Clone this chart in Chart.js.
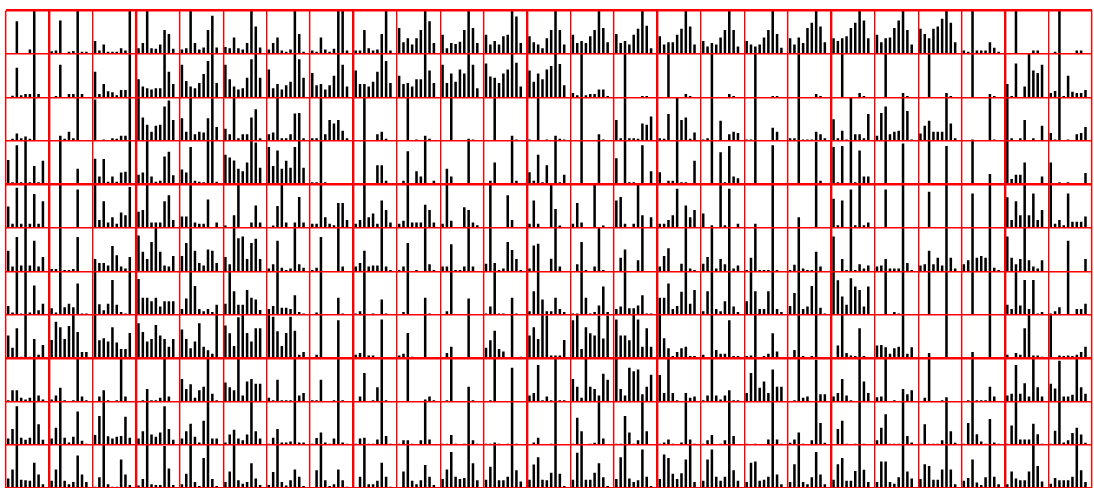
<!DOCTYPE html>
<html>
<head>
<meta charset="utf-8">
<script src="https://cdn.jsdelivr.net/npm/chart.js@4/dist/chart.umd.min.js"></script>
<style>
html,body{margin:0;padding:0;background:#fff;overflow:hidden;}
canvas{display:block;}
</style>
</head>
<body>
<canvas id="grid" width="1094" height="490"></canvas>
<script>
/* panel grid: 25 columns x 11 rows, 9 bars per panel */
const slotLabels = [1,2,3,4,5,6,7,8,9];
const colGroups = [1,2,5,4,3,4,4,2];
const rowGroups = [4,4,3];

const row0 = [
[0,0,7.5,0,0,1,10,0,0],[0.6,0.8,7.7,0,0.5,0.7,10,0.5,0.5],[3,0.8,2.2,0.5,0.5,0.5,1.3,0.8,10],
[1.3,2.5,10,1.3,1.2,2.2,5.5,4.6,1.2],[1,1.3,10,2.5,1,1.5,5.5,8.8,1.5],[1.6,1.3,3.8,1.3,1,2.5,10,6.3,1.5],
[1,2.5,3.8,0.8,0.5,1,10,4.6,0.5],[0.8,0.5,3.8,1,0.5,1.2,10,10,0.8],[0.8,0.8,5.5,1.3,0.8,1,4.6,10,0.8],
[6,2.7,3.6,2.2,3.6,5.5,10,7.5,2.5],[4.4,1.3,2.5,2.3,2.8,5.5,10,6,2.5],[4.4,2.2,3,2.2,4.1,4.4,10,8.6,2.5],
[4.1,2.7,2.2,1.3,3.6,5.5,10,5.5,2.2],[4.4,2.5,3,2.5,4.1,5.5,10,6,2.7],[4.6,2.5,3,2.2,4.4,5.8,10,6.5,1.3],
[4.1,2.2,2.7,2.7,4.4,5.8,10,6.3,2.2],[3,1.7,2.5,2.2,3.8,5.5,10,5.5,1.7],[3,2.2,1.7,2.2,3.8,5.5,10,4.6,1.4],
[3.6,2.2,3.8,2.5,6,7.2,10,6.3,2.7],[3.6,3,3.6,4.1,6,7.2,10,7.7,3.6],[4.4,2.7,3.6,3.8,6,7.7,10,5.5,2.2],
[5.8,4.6,3.6,5.8,6.3,8.1,10,7.2,2.7],[0.8,0.5,10,0.8,0.8,0.8,2.7,1.4,0.5],[0,0,10,0,0,0,0.8,0.8,0],
[0,0.5,10,0,0,0,0.8,0.8,0]
];
const row1 = [
[0,0.4,6.8,0.5,0.8,0.8,10,0.8,0],[0,0.3,7.5,0,0.8,0.8,10,0.8,0],[5.9,0.8,3.1,1.4,1.2,0.5,1.7,1.7,10],
[4.2,2.5,2.1,1.8,2.1,2.1,10,5.9,3.1],[7.5,3.8,2.5,2.1,3.3,5.4,8.4,10,3.3],[7.5,4.2,2.5,1.8,2.1,4.5,8.8,10,4.5],
[6.4,2.1,3.1,1.8,2.8,3.6,10,8.8,4.5],[5.6,2.8,3.1,1.8,2.8,5,10,7.5,2.5],[6.2,3.1,3.1,2.5,3.6,5.9,10,8.4,3.3],
[5,3.1,3.3,2.5,4.2,4.2,10,6.2,3.3],[7.5,3.3,5.5,3.6,6.4,5.5,10,7.5,2.1],[7.8,4.8,4.5,3.3,5.5,6.4,10,8,2.5],
[6.2,3.6,5.5,4.2,6.4,7.2,10,7.7,2.8],[1,0.5,10,0.5,0.8,0.8,1.8,1.8,0.3],[0,0,10,0,0,0,0.3,0.3,0],
[0,0,10,0,0,0,0.8,0.3,0],[0,0,10,0,0,0,0.8,0.3,0],[0,0,10,0,0,0,0.3,0.3,0],
[0,0,10,0,0,0,0.8,0.3,0],[0,0,10,0,0,0,1,0.3,0],[0,0,10,0,0,0,1,0.3,0],
[0,0,10,0,0,0,1,0.3,0],[0,0,10,0,0,0,0.8,0.3,0],[3.1,0.3,7.8,0,2.5,10,6.2,5.6,7.5],
[1,1.5,10,0.3,5,1.3,1,1,1.7]
];
const row2 = [
[0,0.5,1.7,0.6,1,0.5,10,0,0],[0,0,1.2,0.5,2.1,0.6,10,0,0],[9.5,0,0.3,0,0.6,0.5,1.2,1.2,10],
[10,5.4,3.7,2.1,3.5,3.7,7.9,9.3,4.8],[5.2,2.1,10,1.5,2.1,1.9,5.2,9.8,3.2],[2.8,1.5,10,0.6,1.5,1.5,5.4,7.3,0.6],
[1.5,1.9,10,0.6,0.6,1.5,6.3,6.4,0.6],[0.6,0.6,10,1.5,4.8,4,4.8,2.3,0.6],[0,0,10,0,0,1.5,2.1,0.5,0],
[0,0,10,0,0.3,0,1.2,0.5,0],[0,0,10,0,0,0,0.5,0.3,0],[0,0,10,0,0,0,1.2,0.3,0],
[0.3,0,10,0,0.3,0,1.2,0.5,0.3],[0,0,10,0,0,0,1.5,0.3,0],[4.8,0.6,10,0.6,0.6,0.5,4,3.7,5.6],
[0.6,0.5,6.2,0,10,4.8,5.4,0.5,1.9],[0.3,0.6,10,0,4.6,0,1.5,2.1,1.8],[0.3,0.3,10,0,0,0,3,2.1,0],
[0.6,0.6,10,0.3,0.3,0.3,2.1,1.5,0.6],[5,0.6,2.3,0.3,10,1.5,1.5,0.6,6.2],[1.2,6.4,7.9,1.5,2.1,2.3,10,6.9,0.3],
[1.7,3.5,4.6,2.1,2.1,2.1,10,4,0.6],[0,0,0.3,0,0,0,10,0.3,0],[10,0.6,0,0.6,4.8,0,0.6,0,3.5],
[1.8,0.3,10,0,0.3,0,1.5,1.8,3.2]
];
const row3 = [
[5.6,0.5,9,0.5,10,0.5,4.2,0.5,5.4],[0,0,10,0,0.3,0,3.6,0.3,0],[5.9,1.8,5.8,0.6,1.8,0.6,2.7,2.9,10],
[2.2,2.7,10,1.8,0.6,0.8,6.4,7.5,2.1],[3.4,2.7,8.6,0.8,0.6,0.5,10,10,0.6],[6.8,6.2,5.5,3.6,3,5,10,9.6,3.8],
[8.6,4.2,7.8,3.6,5.4,3.8,8.6,10,3.8],[0.5,0.5,10,0.5,0,0,0,0.3,0],[0,0,10,0,0.3,4.4,4.4,0.8,0],
[0,0.8,7.6,0,3,1.8,10,0.3,0.8],[0,3.6,1.8,0,0,0.3,10,0,0],[0,0.8,5,0,0.3,0,10,0.8,0],
[2.8,0.8,6.8,0.5,4.4,0.3,10,0.5,2.2],[0,0.3,10,0,0,0,10,0,0],[6,0.3,10,0.5,0.5,0.3,9,0.3,3],
[2.8,0.3,0.8,0.8,10,0.5,0.5,0.3,5.4],[0.3,0,10,0,7.4,0.5,8.8,1.8,1.4],[0,0,10,0,0,0,9,0.3,0],
[0,0,10,0,0,0,9.8,0.8,0],[8.6,0.5,8.8,0,10,0.5,7.8,1.8,1.8],[0,0,10,0,0,0,9.4,0.3,0],
[0,0,10,0,0,0,8.8,0,0],[0,0,10,0,0,0,2.4,0,0],[10,1.2,2.2,2.2,5,0,0,0,1.8],
[5,0,0.5,0.3,0.5,0.3,0,0,2.6]
];
const row4 = [
[4.9,0.9,9.2,0.9,10,0.9,7.8,0.9,6.1],[0,0,10,0,0,0,8.8,0,0],[10,1.8,6.1,1.2,2.4,0.9,3.5,2.9,9.4],
[3.7,4.1,10,1.2,1.2,1.2,6.1,7.5,1.8],[2.6,2.6,10,1.2,0.9,0.9,6.5,0,1.2],[0.5,0,2.9,10,0,0,1.2,5.1,1.2],
[0,0.5,5,10,1.2,0,1.2,7.1,1.2],[0.9,0.9,10,2.4,0.9,0.6,5.7,5.7,1.8],[0.9,1.8,10,2.4,3.3,0.9,6.3,4.1,1.2],
[0.9,1.6,10,1.2,1.2,1.2,5.3,4.1,1.2],[0.9,10,1.6,0,0,4.7,4.1,1.2,0.6],[0,10,0,0,0,7.5,1.8,0,0],
[0.9,6.3,0.9,0,0,10,4.3,0.5,0],[0.9,5.7,1.2,0,0,10,0,0.5,0],[6.3,7.1,0.9,0,0.9,10,2.9,0,2.4],
[0.9,0.9,1.8,2.9,9,0,5.1,2.4,4.1],[3.3,0,0.6,0,10,0.6,9,0,0.9],[0,0,0.9,0,0,0,10,0,0],
[0,0,2.4,0,0,0,10,0,0],[6.7,0.6,6.3,0,8.8,0.6,10,0.6,1.2],[0,0,8.8,0,0,0,10,0,0],
[0,0,8.3,0,0,0,10,0,0],[0,0,7.9,0,0,0,10,0,0],[7,1.8,6.1,2.9,10,2.9,7.9,1.8,4.1],
[10,0.9,1.8,0.6,7.9,1.4,1.4,1.4,2.6]
];
const row5 = [
[4.7,1.1,7.9,1.3,10,1.3,7,1.1,3.3],[0.5,0.5,10,0.3,0.3,0.5,7.9,0,0],[2.8,1.9,1.9,1.3,5.8,3.7,1.1,0.6,3.3],
[8.2,4.5,2.8,6.7,10,4.5,1.3,1.1,3.5],[3.5,6.5,10,4.7,1.9,1.3,5,4.7,1.9],[3.3,1.6,10,7.6,8,2.8,6.5,7.5,2.8],
[0.6,1.6,7,0.8,0.3,0.6,10,1.6,0.8],[0.3,0.8,7.9,0,0,0,10,1.1,0],[1.1,1.9,4.7,1.1,1.3,1.3,10,1.1,0.3],
[0.3,1.1,6.5,0,0.3,0,10,1.6,0.3],[1.1,1.1,6.2,0.3,0.3,1.1,10,1.1,0],[1.7,10,1.9,0.3,0.6,6.7,4.9,2.8,0.3],
[0.6,5.9,6.3,0,0,2.9,10,1.1,0],[0,1.6,6.7,0.3,0,1.1,10,0.3,0],[0,3.1,5,0,0,2.5,10,0,0],
[1.1,3.5,5.3,0,0,1.7,10,0.6,0.3],[1.7,3.3,10,0.6,2.8,1.6,10,0.6,1.3],[0.3,3.1,10,0.3,0.3,0.3,10,0.3,0],
[0.3,1.5,10,0.6,0.3,0.3,4.5,1.1,0],[8,0,2.8,0.3,10,0.3,1.6,0.6,1.3],[1.1,1.3,2.8,0.6,0.6,0.6,10,1.9,0.3],
[1.3,1.6,4.7,1.6,3.1,1.3,10,3.1,0.6],[1.6,2.5,10,3.1,3.5,3.1,10,0.8,0.3],[8,3.1,1.6,2.8,10,2.5,1.1,0.6,2.5],
[0,0,0,0,7,0,0,0,2.8]
];
const row6 = [
[2,0.5,10,0.3,10,0.5,6.7,1,2.5],[1.5,0.5,10,1.7,2.5,1.7,7.2,0.3,0.3],[10,2.4,1,2.5,8,2.3,0.6,0.3,10],
[8.2,3.9,3.9,3.1,3.9,1.9,3.1,3.1,3.1],[1.3,3.7,10,6.6,1.3,0.8,1.3,0.6,2.3],[2.5,10,5.4,2.3,2.3,5.7,3.9,3.5,1.1],
[1.3,2,10,1.6,1.6,1.3,4.5,0.6,0.3],[0,0.5,10,0,0,0,3.9,0.3,0],[0.3,0.8,10,0,0.3,0,3.5,0.3,0],
[0,0.6,10,0,0,0,3.9,0.3,0],[0,0.8,10,0,0,0,3.7,0,0],[0.3,1.9,10,0.3,0.3,0,3.9,0.3,0],
[0.8,5.4,10,3.5,0.8,0.8,3.9,1.3,0.6],[0.3,0.3,10,3.9,0.3,0.6,2.1,6.5,0.6],[1.3,1.9,10,1.5,1.5,2.1,4.5,0.3,0.3],
[3.9,3.9,7.2,1.3,2,5.3,10,2.5,5.7],[0.8,5.4,10,1.3,0.8,3.1,10,1.9,0.6],[3.1,10,5.4,1.3,1.3,5.4,10,1.3,0.6],
[2,5,10,1.3,1.9,6.6,10,1.6,0.3],[10,7.9,4.2,2.3,8.4,6.5,5.7,1.9,6.5],[0,0,10,0,0.6,0.3,10,0,0],
[0,0,10,0,0,0,10,0,0],[0,0,10,0,0,0,10,0,0],[2.3,1.3,10,2.1,8,1.3,8,0.3,0.6],
[0.3,0.8,1.7,0,10,0,1.3,1.3,2.5]
];
const row7 = [
[5.2,2.4,6.9,0.3,10,0.3,4.4,0.8,3],[4.2,8.4,7.1,4.4,7.4,10,6,1.4,1.4],[10,4.1,4.6,3.8,7.1,3.6,2.1,2.1,5.8],
[8,6,3.8,4.4,7.6,5.2,4.4,2.6,4.4],[6.6,4.4,2.3,3.8,8,2.6,1.8,1,10],[7.5,5.7,2.8,9.4,10,5.8,3.8,6.9,6.9],
[10,9.5,6.2,2.8,5.8,9.5,6.3,0.8,1.4],[0,0.8,10,0,0,0,8.7,0,0],[0.8,1.2,10,0.6,0.6,0,8.9,0,0],
[0.6,1,5.8,0.3,0,0,10,0,0],[0,1.2,2.6,0,0,0,10,0,0],[2.4,4.1,6.3,2.1,1.5,0,10,0,0.3],
[5.2,7.1,4.4,10,9.8,0.6,0.6,0.6,4.2],[8.7,10,2.1,7.1,5.7,5.2,9.8,4.5,9.8],[8.9,5.2,5.2,4.1,10,8.9,2.6,6.9,2.6],
[10,4.6,2.3,0.5,1.4,2.3,2.6,0.5,0.5],[0.8,0,10,1.9,1,1,8.7,0.5,0.5],[0.5,0.6,10,0,0.5,1,5.7,1.5,0],
[0,1.9,10,0.5,0,0.5,10,0,0],[0,2.9,10,1.2,0.6,0.5,6.9,0.5,0],[2.9,3,2.5,1,2.3,2.6,10,1,2.5],
[0,0,1.2,0,0,0,10,0,0],[0,0,1.4,0,0,0,10,0,0],[0.8,0,1.2,0.8,6.9,10,0.6,0.6,0.3],
[10,0,0.6,0.5,0.6,0.5,0.8,1.4,2.6]
];
const row8 = [
[0.3,2.6,2.6,0.9,0.5,0.9,10,1.4,0.5],[0.5,1.4,3.2,0.3,0,0.3,10,1.2,0.3],[0,1.2,2.6,0.3,0,0.3,10,1.2,0],
[0,0.3,2.9,0.3,0.3,0.9,10,1.2,0],[5.2,2.9,4,0.9,2.6,3.4,10,1.8,0.3],[4.4,3.3,2.6,10,1.4,4.6,5.2,4.1,4.1],
[0.9,0.3,5,0.3,0.3,0.3,10,1.4,2],[0.3,0.3,5,0,0,0.3,10,0.3,0],[0,1.2,6.6,0,0.3,3.3,10,0.3,0],
[0,0,10,0,0,0,0.5,1.2,0.3],[0,0.3,10,0,0,0,3.4,0.3,0],[0,0.3,10,0,0,0,7.8,0,0],
[1.4,2,8.4,0.3,1.2,0.3,10,0.3,0.3],[5.2,3.4,0.9,10,3.4,2.9,1.4,6.4,5],[10,2.9,1.4,7.8,7,7.4,1.7,3.4,6.2],
[6.1,2,10,2,0.3,0,2,0.9,1.2],[0.3,1.4,10,1.4,0.5,1.4,2.6,0.3,0.3],[2,6.6,10,3.2,4.6,2,7.4,3.4,3.4],
[0,0.3,10,0.9,1.2,0,9.6,1.7,1.7],[1.2,2,5.2,1.4,0.3,0,10,4.6,2],[1,1.2,10,0,0.3,0,2.9,1.7,2.6],
[0,0.9,10,0,0,0.3,1,0,0],[0,0.3,10,0.3,0.3,0.3,3.4,1.2,0],[1.4,1.8,8.4,1.8,4.2,1.2,10,3.3,1.2],
[4.1,3,9.4,1.2,1.2,1.6,10,3.3,1.8]
];
const row9 = [
[1.5,3.7,8.9,1.7,1.2,1.7,10,4.8,1.2],[1.5,4,10,1.7,0.6,1.9,7.7,1,0.3],[2.3,6.7,10,2,1.5,1.9,2.1,6.5,1.7],
[1.5,3.2,10,2.4,1.9,2.9,8.9,3.7,1.2],[1.5,3.2,4.9,1.9,0.6,5.6,10,1.5,1.5],[0.6,2.4,3.5,1.5,1.1,2.4,10,3.2,1.5],
[0.3,1.7,3.7,0.6,0.6,0.8,10,0.6,0.6],[0.3,1.6,2.9,0.6,0.3,1.5,10,0.6,0.3],[0.3,1.5,1.7,0.3,0.3,1.3,10,2.1,0.3],
[0.3,1.1,1.1,0.3,0,1.1,10,1.3,0],[0.3,0.3,2.3,0.3,0,0.3,10,1.1,0.3],[0.3,0.3,0.6,0.3,0,0.3,10,0.3,0],
[0,0.6,1.7,0,0,0.3,10,0,0],[0.3,6.3,3.2,0,0.3,0.5,10,1.5,0],[0.3,0.3,6.7,2.9,0.3,1.1,10,3.2,0],
[0.3,0.6,1.3,0.3,0,0.6,10,1.3,0.3],[0.3,1.1,2.3,0,0.3,1.1,10,2.1,0],[0.3,0,0.3,0,0,1.3,10,1.3,0.3],
[0.5,1.3,2.9,0.3,0,1.1,10,5.1,0.5],[0,3.7,5.6,0.3,0,0.3,10,0.3,0],[1.1,4,7.1,0.3,0.3,0.3,10,2.1,0.6],
[0.3,4.8,0.3,0.3,0.3,1.1,10,3.2,0.5],[0.3,5.1,10,2.5,0.8,0.3,6,0.6,0.3],[0.3,4.5,10,1.3,1.3,1.3,4.9,2.5,0.3],
[0.3,3.3,10,0.6,1.1,2.8,4,2.4,0.5]
];
const row10 = [
[2.3,4.4,10,2,1.9,1.8,5.9,3.2,1],[1.8,4.4,10,1.8,1,1.5,7.6,3.2,1.5],[0.4,2.6,10,1,0.4,0.4,6.7,3.2,0.8],
[0.7,2.2,10,1,0.8,0.8,9.8,4.6,0.8],[1,3.4,10,1.5,0.6,7,10,2.2,0.6],[1.5,3.9,10,1.9,1.1,1.5,5.8,2.3,0.8],
[0.8,3.8,10,1.5,0.7,1.9,4.4,2.7,0.6],[0.3,4.2,10,1.9,0.6,1,4.4,1.9,0.4],[0.3,2.7,10,1,1,1.8,5.9,2.7,0.4],
[0.3,3.9,10,1.8,1,1.9,5.4,2.7,0.8],[2.2,4.4,8.4,2.7,2.2,2.4,10,5.8,1.9],[2,5,10,1.9,1.9,2.7,10,4.2,1.6],
[2,5.5,7.2,2,1.9,3.6,10,3.4,0.6],[2,8.2,10,2,2,3.6,5.8,2.6,0.6],[2.2,7.2,10,2.3,1.5,1.9,9,2.7,0.6],
[2.2,7.8,7,3.4,2.2,3.5,6.7,10,1.5],[1.8,6.7,9,2.7,1.8,2.7,10,4.2,1.8],[1.5,5.9,6.2,1.8,2,2.7,10,3.2,1],
[1.5,5.6,10,1.5,1,2.6,8.4,3.2,1],[2,5.6,7,1.8,1.8,4,10,4.3,1.5],[1.5,6.2,6.2,1.5,1.1,2.6,10,3.9,2.3],
[2.2,5.6,5.2,2,2,4.4,10,4.4,1],[1.8,2.4,6.7,1.4,0.8,2.6,10,2.7,1],[1,3.9,2.3,1.9,1.9,3.9,10,5.2,1.6],
[1.1,2.4,1.9,1.9,1.9,2.7,10,4.2,1.5]
];

const rows = [row0,row1,row2,row3,row4,row5,row6,row7,row8,row9,row10];

/* each panel gets 10 slots on x and 10 units on y */
const SLOTS = slotLabels.length + 1;
const SPAN = 10;
const nCols = row0.length;
const nRows = rows.length;

/* group boundaries -> thick red lines */
const thickX = new Set();
let acc = 0;
colGroups.forEach(g=>{ acc += g; thickX.add(acc*SLOTS); });
thickX.delete(nCols*SLOTS);
const thickY = new Set([nRows*SPAN, 0]);
acc = 0;
rowGroups.forEach(g=>{ acc += g; thickY.add((nRows-acc)*SPAN); });

/* floating bars: every panel sits on its own base line */
const bars = [];
rows.forEach((row,r)=>{
  const base = (nRows-1-r)*SPAN;
  row.forEach((cell,c)=>{
    cell.forEach((v,s)=>{
      if(v>0) bars.push({x: c*SLOTS + s + 0.5, y: [base, base+v]});
    });
  });
});

const RED = '#ff0000';

new Chart(document.getElementById('grid'),{
  type:'bar',
  data:{
    datasets:[{
      data:bars,
      backgroundColor:'#000000',
      borderWidth:0,
      barPercentage:0.58,
      categoryPercentage:1
    }]
  },
  options:{
    responsive:false,
    animation:false,
    devicePixelRatio:1,
    layout:{padding:{left:6,right:2,top:10.5,bottom:1.5}},
    plugins:{legend:{display:false},tooltip:{enabled:false}},
    scales:{
      x:{
        type:'linear',
        min:0,
        max:nCols*SLOTS,
        offset:false,
        ticks:{display:false,stepSize:SLOTS,maxTicksLimit:1000},
        border:{display:false},
        grid:{
          z:1,
          offset:false,
          drawTicks:false,
          color:RED,
          lineWidth:ctx=>thickX.has(ctx.tick.value)?2.4:1.4
        }
      },
      y:{
        type:'linear',
        min:0,
        max:nRows*SPAN,
        ticks:{display:false,stepSize:SPAN,maxTicksLimit:1000},
        border:{display:false},
        grid:{
          z:1,
          drawTicks:false,
          color:RED,
          lineWidth:ctx=>thickY.has(ctx.tick.value)?2.4:1.4
        }
      }
    }
  }
});
</script>
</body>
</html>
